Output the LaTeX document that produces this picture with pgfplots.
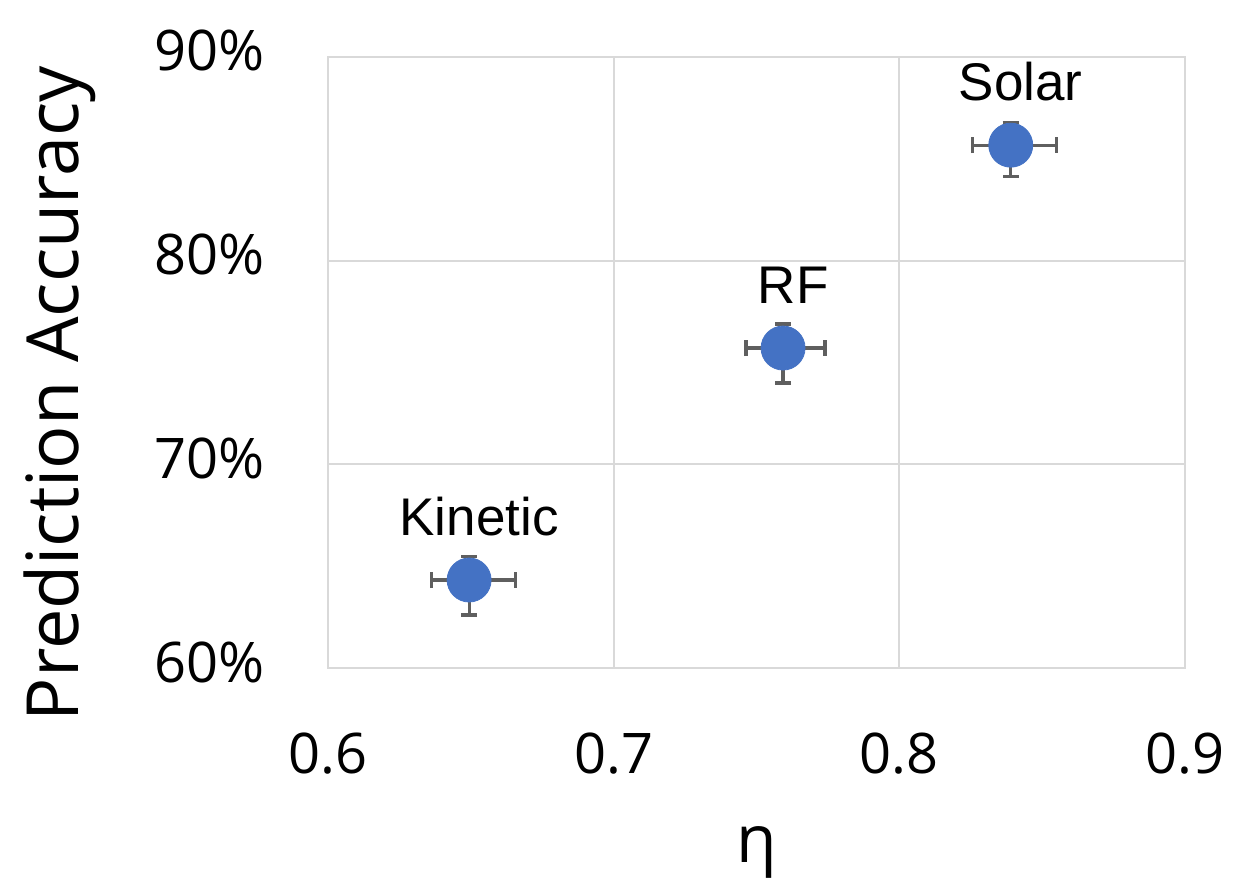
\documentclass[border=0pt]{standalone}
\usepackage{fontspec}
\setmainfont{Open Sans}
\newfontfamily\labelfont{Liberation Sans}
\usepackage{pgfplots}
\usepackage{pgfplotstable}
\pgfplotsset{compat=1.18}
\definecolor{mblue}{HTML}{4472C4}
\definecolor{errgray}{HTML}{5F5F5F}
\definecolor{gridgray}{HTML}{D9D9D9}

\pgfplotstableread{
x y xp xm yp ym lab
0.6494 64.32 0.0161 0.0133 1.14 1.72 Kinetic
0.7593 75.71 0.0147 0.0130 1.18 1.72 RF
0.8390 85.67 0.0161 0.0133 1.13 1.52 Solar
}\data

\begin{document}
\begin{tikzpicture}
\path[use as bounding box] (-164pt,-110pt) rectangle (456.5pt,334pt);
\begin{axis}[
  scale only axis, width=428.5pt, height=305.5pt,
  xmin=0.6, xmax=0.9, ymin=60, ymax=90,
  xtick={0.6,0.7,0.8,0.9}, xticklabels={0.6,0.7,0.8,0.9},
  ytick={60,70,80,90}, yticklabels={60\%,70\%,80\%,90\%},
  grid=major, major grid style={gridgray, line width=1pt},
  axis line style={gridgray, line width=1pt},
  major tick length=0pt,
  tick label style={font=\fontsize{28}{34}\selectfont, inner sep=0pt},
  xticklabel style={anchor=base, yshift=-52.5pt},
  yticklabel style={anchor=base east, xshift=-31.5pt, yshift=-7pt},
  xlabel={η},
  xlabel style={font=\fontsize{33}{40}\selectfont, at={(axis description cs:0.5,0)}, anchor=base, yshift=-97pt, inner sep=0pt},
  ylabel={Prediction Accuracy},
  ylabel style={font=\fontsize{36}{43}\selectfont, at={(axis description cs:-0.2917,0.4493)}, anchor=base, inner sep=0pt},
  clip=false,
]
\addplot[errgray, only marks, mark=none, forget plot,
  error bars/.cd, x dir=both, x explicit, y dir=both, y explicit,
  error bar style={errgray, line width=1.6pt},
  error mark options={rotate=90, errgray, line width=1.6pt, mark size=4pt}]
  table[x=x, y=y, x error plus=xp, x error minus=xm, y error plus=yp, y error minus=ym] {\data};
\addplot[only marks, mark=*, mark size=11pt, mark options={fill=mblue, draw=mblue},
  point meta=explicit symbolic, nodes near coords,
  nodes near coords style={font=\labelfont\fontsize{26.5}{32}\selectfont, anchor=base, yshift=22.5pt, xshift=5pt, inner sep=0pt, text=black}]
  table[x=x, y=y, meta=lab] {\data};
\end{axis}
\end{tikzpicture}
\end{document}
